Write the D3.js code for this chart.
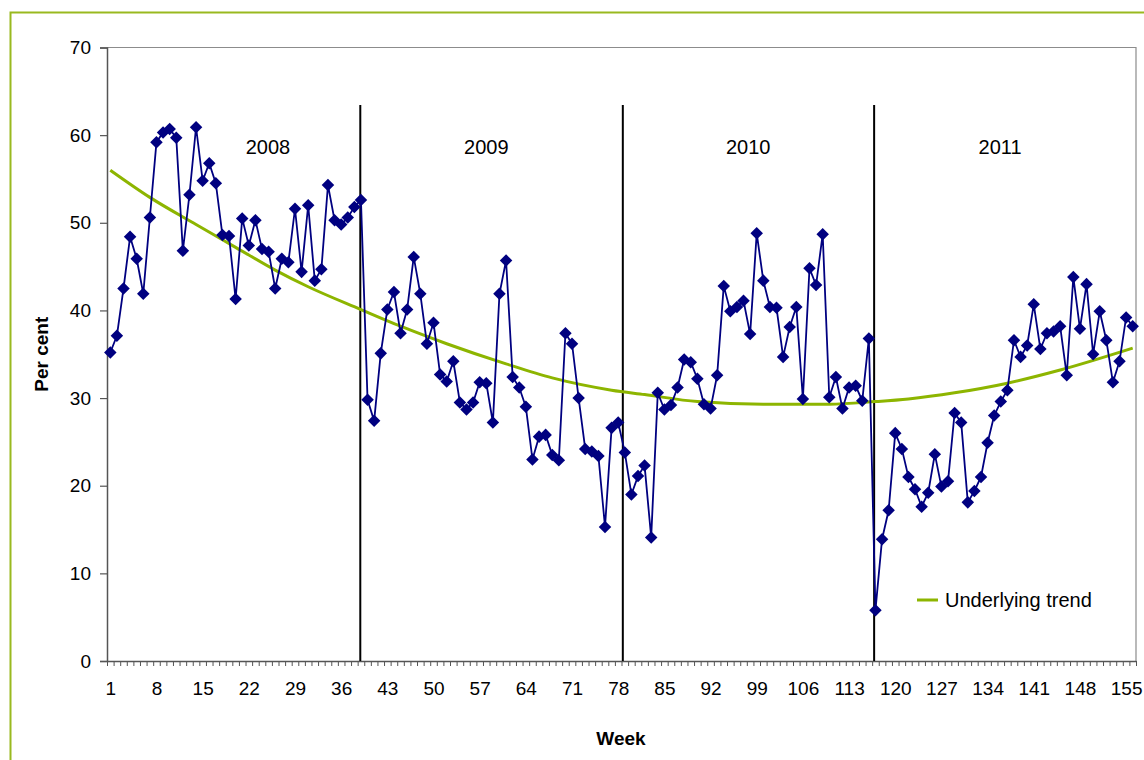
<!DOCTYPE html>
<html>
<head>
<meta charset="utf-8">
<script src="https://cdn.jsdelivr.net/npm/d3@7"></script>
<style>
  body { margin: 0; background: #fff; }
  svg text { font-family: "Liberation Sans", Arial, sans-serif; fill: #000; }
</style>
</head>
<body>
<svg id="chart" width="1144" height="760"></svg>
<script>
// weekly share, per cent (weeks 1..156)
const pctValues = [
    35.2, 37.1, 42.5, 48.4, 45.9, 41.9, 50.6, 59.2, 60.3, 60.7,
    59.7, 46.8, 53.2, 60.9, 54.8, 56.8, 54.5, 48.6, 48.5, 41.3,
    50.5, 47.4, 50.3, 47.0, 46.7, 42.5, 45.9, 45.5, 51.6, 44.4,
    52.0, 43.4, 44.7, 54.3, 50.3, 49.8, 50.6, 51.8, 52.6, 29.8,
    27.4, 35.1, 40.1, 42.1, 37.4, 40.1, 46.1, 41.9, 36.2, 38.6,
    32.7, 31.9, 34.2, 29.5, 28.7, 29.5, 31.8, 31.7, 27.2, 41.9,
    45.7, 32.4, 31.2, 29.0, 23.0, 25.6, 25.8, 23.5, 22.9, 37.4,
    36.2, 30.0, 24.2, 23.9, 23.4, 15.3, 26.6, 27.2, 23.8, 19.0,
    21.1, 22.3, 14.1, 30.6, 28.7, 29.2, 31.2, 34.4, 34.1, 32.2,
    29.3, 28.8, 32.6, 42.8, 39.9, 40.4, 41.1, 37.3, 48.8, 43.4,
    40.4, 40.3, 34.7, 38.1, 40.4, 29.9, 44.8, 42.9, 48.7, 30.1,
    32.4, 28.8, 31.2, 31.4, 29.7, 36.8, 5.8, 13.9, 17.2, 26.0,
    24.2, 21.0, 19.6, 17.6, 19.2, 23.6, 19.9, 20.5, 28.3, 27.2,
    18.1, 19.4, 21.0, 24.9, 28.0, 29.6, 30.9, 36.6, 34.7, 36.0,
    40.7, 35.6, 37.4, 37.6, 38.2, 32.6, 43.8, 37.9, 43.0, 35.0,
    39.9, 36.6, 31.8, 34.2, 39.2, 38.2
];

// underlying trend, read at a few weeks
const trendWeeks  = [1, 7, 14, 20, 26, 31, 39, 45, 52, 61, 68, 77, 82, 90, 100, 110, 117, 122, 129, 137, 145, 156];
const trendValues = [56.0, 52.9, 49.8, 47.2, 44.6, 42.7, 40.1, 38.2, 36.2, 33.9, 32.3, 30.9, 30.4, 29.6, 29.3, 29.3, 29.6, 29.9, 30.6, 31.7, 33.2, 35.7];

const yearNames  = ["2008", "2009", "2010", "2011"];
const yearBreaks = [38.9, 78.7, 116.8];       // week where each new year starts
const yearLabelWeeks = [24.9, 58, 97.7, 135.9];

const yTicks = [0, 10, 20, 30, 40, 50, 60, 70];
const xLabelWeeks = d3.range(1, 156, 7);     // 1, 8, ... 155

const svg = d3.select("#chart");
const plotLeft = 107, plotRight = 1136, plotTop = 47.5, plotBottom = 661;

const x = d3.scaleLinear().domain([0.5, pctValues.length + 0.5]).range([plotLeft, plotRight]);
const y = d3.scaleLinear().domain([0, 70]).range([plotBottom, plotTop]);

// outer chart frame
svg.append("rect")
    .attr("x", 10.5).attr("y", 12.5)
    .attr("width", 1160).attr("height", 800)
    .attr("fill", "none")
    .attr("stroke", "#99b91f")
    .attr("stroke-width", 2);

// plot area frame (top / right)
svg.append("path")
    .attr("d", `M${plotLeft},${plotTop}H${plotRight}V${plotBottom}`)
    .attr("fill", "none")
    .attr("stroke", "#8c8c8c")
    .attr("stroke-width", 1.2);

// y axis
const yAxis = svg.append("g")
    .attr("transform", `translate(${plotLeft},0)`)
    .call(d3.axisLeft(y).tickValues(yTicks).tickSize(7).tickPadding(9));
yAxis.select(".domain").attr("stroke", "#555").attr("stroke-width", 1.5);
yAxis.selectAll(".tick line").attr("stroke", "#555").attr("stroke-width", 1.2);
yAxis.selectAll("text").style("font-size", "19px").attr("fill", "#000");

// x axis - a tick between every week
const boundaries = d3.range(0.5, pctValues.length + 1, 1);
const xAxis = svg.append("g")
    .attr("transform", `translate(0,${plotBottom})`)
    .call(d3.axisBottom(x).tickValues(boundaries).tickSize(5).tickSizeOuter(0).tickFormat(""));
xAxis.select(".domain").attr("stroke", "#555").attr("stroke-width", 1.5);
xAxis.selectAll(".tick line").attr("stroke", "#555").attr("stroke-width", 1);

const xLabels = svg.append("g")
    .attr("transform", `translate(0,${plotBottom})`)
    .call(d3.axisBottom(x).tickValues(xLabelWeeks).tickSize(0).tickPadding(21).tickFormat(d3.format("d")));
xLabels.select(".domain").remove();
xLabels.selectAll("text").style("font-size", "19px").attr("fill", "#000");

// axis titles
svg.append("text")
    .attr("transform", `translate(48,${(plotTop + plotBottom) / 2}) rotate(-90)`)
    .attr("text-anchor", "middle")
    .style("font-size", "19px").style("font-weight", "bold")
    .text("Per cent");

svg.append("text")
    .attr("x", 621).attr("y", 745)
    .attr("text-anchor", "middle")
    .style("font-size", "19px").style("font-weight", "bold")
    .text("Week");

// year separators
svg.selectAll(".yearLine")
    .data(yearBreaks)
    .enter().append("line")
    .attr("class", "yearLine")
    .attr("x1", d => x(d)).attr("x2", d => x(d))
    .attr("y1", 105).attr("y2", plotBottom)
    .attr("stroke", "#000")
    .attr("stroke-width", 2);

svg.selectAll(".yearLabel")
    .data(yearNames)
    .enter().append("text")
    .attr("class", "yearLabel")
    .attr("x", (d, i) => x(yearLabelWeeks[i]))
    .attr("y", y(57.8))
    .attr("text-anchor", "middle")
    .style("font-size", "20px")
    .text(d => d);

// trend
const trendLine = d3.line()
    .x((d, i) => x(trendWeeks[i]))
    .y(d => y(d))
    .curve(d3.curveMonotoneX);

svg.append("path")
    .datum(trendValues)
    .attr("d", trendLine)
    .attr("fill", "none")
    .attr("stroke", "#8db500")
    .attr("stroke-width", 3);

// weekly series
const valueLine = d3.line()
    .x((d, i) => x(i + 1))
    .y(d => y(d));

svg.append("path")
    .datum(pctValues)
    .attr("d", valueLine)
    .attr("fill", "none")
    .attr("stroke", "#000080")
    .attr("stroke-width", 1.8);

const diamond = d3.symbol().type(d3.symbolDiamond2).size(100);
svg.selectAll(".pt")
    .data(pctValues)
    .enter().append("path")
    .attr("class", "pt")
    .attr("transform", (d, i) => `translate(${x(i + 1)},${y(d)})`)
    .attr("d", diamond)
    .attr("fill", "#000080");

// legend
const legend = svg.append("g").attr("transform", "translate(917,600)");
legend.append("line")
    .attr("x1", 0).attr("x2", 21)
    .attr("stroke", "#8db500").attr("stroke-width", 3);
legend.append("text")
    .attr("x", 28).attr("y", 7)
    .style("font-size", "20px")
    .text("Underlying trend");
</script>
</body>
</html>
